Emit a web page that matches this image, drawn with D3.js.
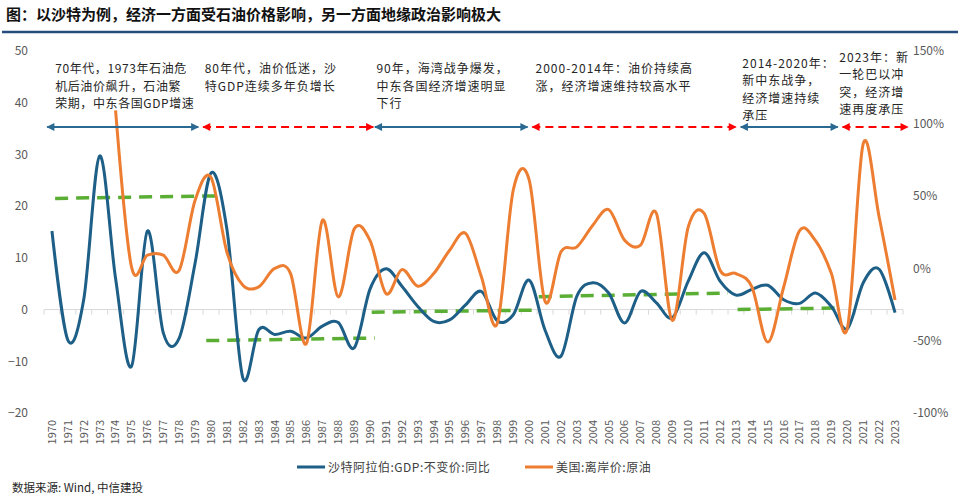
<!DOCTYPE html>
<html>
<head>
<meta charset="utf-8">
<script src="https://cdn.jsdelivr.net/npm/d3@7"></script>
<style>
  body { margin: 0; background: #fff; }
  svg text { font-family: "Noto Sans CJK SC", "Noto Sans", sans-serif; }
</style>
</head>
<body>
<div id="chart"></div>
<script>
// years on the category axis
const years = d3.range(1970, 2024);

// Saudi real GDP yoy (%), left axis
const gdp = [15.2, -5.9, 2, 29.7, 6, -11, 15.2, -4.5, -5.5, 9,
             26.4, 15.5, -13.2, -3.9, -4.8, -4.2, -5.5, -3.2, -2.5, -7.4,
             4, 7.9, 4.5, 0.6, -2.3, -2.0, 0.9, 3.5, -2.2, -1.0,
             5.7, -4, -9, 2.6, 5.2, 3.2, -2.6, 3.5, 1.3, -1.6,
             5.5, 11, 5.5, 2.8, 3.9, 4.7, 1.9, 1.2, 3.2, 0.6,
             -3.7, 5.2, 7.8, -0.6];

// US FOB crude oil price yoy (%), right axis; no data before 1974
const oil = [null, null, null, null, 109, 0.9, 9, 9, -1.4, 47,
             62.6, 11, -11.7, -12.9, -0.2, -3.7, -52, 33, -19.8, 27,
             19, -17.5, -1, -12.4, -3.7, 12.4, 24, -6, -38, 54,
             61, -23, 11.3, 14.7, 29.7, 40.5, 19.3, 15.9, 37.8, -36,
             28.5, 37.8, -1.4, -3.7, -12.9, -51, -13, 26, 19, -3.7,
             -41.6, 86, 35.4, -22];

// green dashed average levels per period (left axis)
const trendFrom = [1970.2, 1979.7, 1990.1, 2000.6, 2013.1];
const trendTo   = [1980.6, 1990.3, 2000.5, 2012.5, 2019.4];
const trendV0   = [21.5, -6.0, -0.5, 2.5, 0.0];
const trendV1   = [22.0, -5.5, -0.1, 3.2, 0.3];

// period arrows (year spans); solid = growth period, dashed = weak period
const arrowFrom = [1969.7, 1979.5, 1990.3, 2000.2, 2013.3, 2019.7];
const arrowTo   = [1979.2, 1990.2, 1999.9, 2013.0, 2019.4, 2023.8];
const arrowGood = [true, false, true, false, true, false];

// period notes, one entry per text box
const noteYear = [1970.2, 1979.6, 1990.4, 2000.4, 2013.4, 2019.5];
const noteLines = [
  ["70年代，1973年石油危", "机后油价飙升，石油繁", "荣期，中东各国GDP增速"],
  ["80年代，油价低迷，沙", "特GDP连续多年负增长"],
  ["90年，海湾战争爆发，", "中东各国经济增速明显", "下行"],
  ["2000-2014年：油价持续高", "涨，经济增速维持较高水平"],
  ["2014-2020年：", "新中东战争，", "经济增速持续", "承压"],
  ["2023年：新", "一轮巴以冲", "突，经济增", "速再度承压"]
];
const noteTop = [73, 73, 73, 73, 67.5, 61.5];
const noteSpacing = [0.6, 1, 1, 1, 1, 1];

const leftTicks = [-20, -10, 0, 10, 20, 30, 40, 50];
const rightTicks = [-100, -50, 0, 50, 100, 150];

const title = "图：以沙特为例，经济一方面受石油价格影响，另一方面地缘政治影响极大";
const source = "数据来源: Wind, 中信建投";
const seriesNames = ["沙特阿拉伯:GDP:不变价:同比", "美国:离岸价:原油"];

const width = 960, height = 496;
const blue = "#1d5f87", orange = "#ed7d31", green = "#5aae34";

let svg = d3.select("#chart").append("svg")
    .attr("width", width)
    .attr("height", height);

// title and rule
svg.append("text")
    .attr("x", 6).attr("y", 20)
    .style("font-size", "15px")
    .style("font-weight", "bold")
    .attr("fill", "#111")
    .text(title);
svg.append("line")
    .attr("x1", 2).attr("x2", 958)
    .attr("y1", 32).attr("y2", 32)
    .attr("stroke", "#244d7c")
    .attr("stroke-width", 2.5);

// scales
let x = d3.scaleBand().domain(years).range([44, 903]);
let half = x.bandwidth() / 2;
let xf = d3.scaleLinear()
    .domain([1970, 2023])
    .range([x(1970) + half, x(2023) + half]);
let yL = d3.scaleLinear().domain([-20, 50]).range([413, 51]);
let yR = d3.scaleLinear().domain([-100, 150]).range([413, 51]);

// zero line with ticks between categories
let zeroY = yL(0);
svg.append("line")
    .attr("x1", 44).attr("x2", 903)
    .attr("y1", zeroY).attr("y2", zeroY)
    .attr("stroke", "#d9d9d9").attr("stroke-width", 1);
svg.append("g").selectAll("line")
    .data(years.concat([2024]))
    .enter().append("line")
    .attr("x1", d => d === 2024 ? 903 : x(d))
    .attr("x2", d => d === 2024 ? 903 : x(d))
    .attr("y1", zeroY).attr("y2", zeroY + 5)
    .attr("stroke", "#d9d9d9");

// year labels along the bottom
let xAxis = svg.append("g")
    .attr("transform", "translate(0, 418)")
    .call(d3.axisBottom(x).tickSize(0).tickPadding(0));
xAxis.select(".domain").remove();
xAxis.selectAll("text")
    .attr("transform", "rotate(-90)")
    .attr("x", -2).attr("y", 0).attr("dy", "0.35em")
    .style("text-anchor", "end")
    .style("font-size", "11px")
    .attr("fill", "#595959");

// left axis
let leftAxis = svg.append("g")
    .attr("transform", "translate(30, 0)")
    .call(d3.axisLeft(yL).tickValues(leftTicks).tickSize(0).tickPadding(2));
leftAxis.select(".domain").remove();
leftAxis.selectAll("text").style("font-size", "12px").attr("fill", "#595959");

// right axis
let rightAxis = svg.append("g")
    .attr("transform", "translate(911, 0)")
    .call(d3.axisRight(yR).tickValues(rightTicks).tickSize(0).tickPadding(2)
        .tickFormat(d => d + "%"));
rightAxis.select(".domain").remove();
rightAxis.selectAll("text").style("font-size", "12px").attr("fill", "#595959");

// green trend levels
svg.append("g").selectAll("line")
    .data(trendFrom)
    .enter().append("line")
    .attr("x1", d => xf(d))
    .attr("x2", (d, i) => xf(trendTo[i]))
    .attr("y1", (d, i) => yL(trendV0[i]))
    .attr("y2", (d, i) => yL(trendV1[i]))
    .attr("stroke", green)
    .attr("stroke-width", 3.5)
    .attr("stroke-dasharray", "13,8");

// series lines
let gdpLine = d3.line()
    .x((d, i) => x(years[i]) + half)
    .y(d => yL(d))
    .curve(d3.curveCardinal.tension(0));
svg.append("path")
    .datum(gdp)
    .attr("d", gdpLine)
    .attr("fill", "none")
    .attr("stroke", blue)
    .attr("stroke-width", 3);

let oilLine = d3.line()
    .defined(d => d !== null)
    .x((d, i) => x(years[i]) + half)
    .y(d => yR(d))
    .curve(d3.curveCardinal.tension(0));
svg.append("path")
    .datum(oil)
    .attr("d", oilLine)
    .attr("fill", "none")
    .attr("stroke", orange)
    .attr("stroke-width", 3);

// arrow heads
let defs = svg.append("defs");
[["good", "#2a6a92"], ["bad", "#ff0000"]].forEach(function (m) {
  defs.append("marker")
      .attr("id", "head-" + m[0])
      .attr("viewBox", "0 0 10 10")
      .attr("refX", 9).attr("refY", 5)
      .attr("markerWidth", 5).attr("markerHeight", 4)
      .attr("markerUnits", "strokeWidth")
      .attr("orient", "auto-start-reverse")
    .append("path")
      .attr("d", "M0,0 L10,5 L0,10 Z")
      .attr("fill", m[1]);
});

let arrowY = 127;
svg.append("g").selectAll("line")
    .data(arrowFrom)
    .enter().append("line")
    .attr("x1", d => xf(d))
    .attr("x2", (d, i) => xf(arrowTo[i]))
    .attr("y1", arrowY).attr("y2", arrowY)
    .attr("stroke", (d, i) => arrowGood[i] ? "#2a6a92" : "#ff0000")
    .attr("stroke-width", 2)
    .attr("stroke-dasharray", (d, i) => arrowGood[i] ? null : "8,5")
    .attr("marker-start", (d, i) => arrowGood[i] ? "url(#head-good)" : "url(#head-bad)")
    .attr("marker-end", (d, i) => arrowGood[i] ? "url(#head-good)" : "url(#head-bad)");

// notes
noteLines.forEach(function (lines, i) {
  let t = svg.append("text")
      .attr("x", xf(noteYear[i]))
      .attr("y", noteTop[i])
      .style("font-size", "12px")
      .style("letter-spacing", noteSpacing[i] + "px")
      .attr("fill", "#262626");
  lines.forEach(function (s, j) {
    t.append("tspan")
        .attr("x", xf(noteYear[i]))
        .attr("dy", j === 0 ? 0 : 17.6)
        .text(s);
  });
});

// legend
let legend = svg.append("g");
let legendX = [297, 525];
[blue, orange].forEach(function (c, i) {
  legend.append("line")
      .attr("x1", legendX[i]).attr("x2", legendX[i] + 28)
      .attr("y1", 467).attr("y2", 467)
      .attr("stroke", c).attr("stroke-width", 3);
  legend.append("text")
      .attr("x", legendX[i] + 31).attr("y", 471.5)
      .style("font-size", "12px")
      .style("letter-spacing", "0.5px")
      .attr("fill", "#404040")
      .text(seriesNames[i]);
});

// source
svg.append("text")
    .attr("x", 12).attr("y", 492)
    .style("font-size", "11.5px")
    .attr("fill", "#262626")
    .text(source);
</script>
</body>
</html>
